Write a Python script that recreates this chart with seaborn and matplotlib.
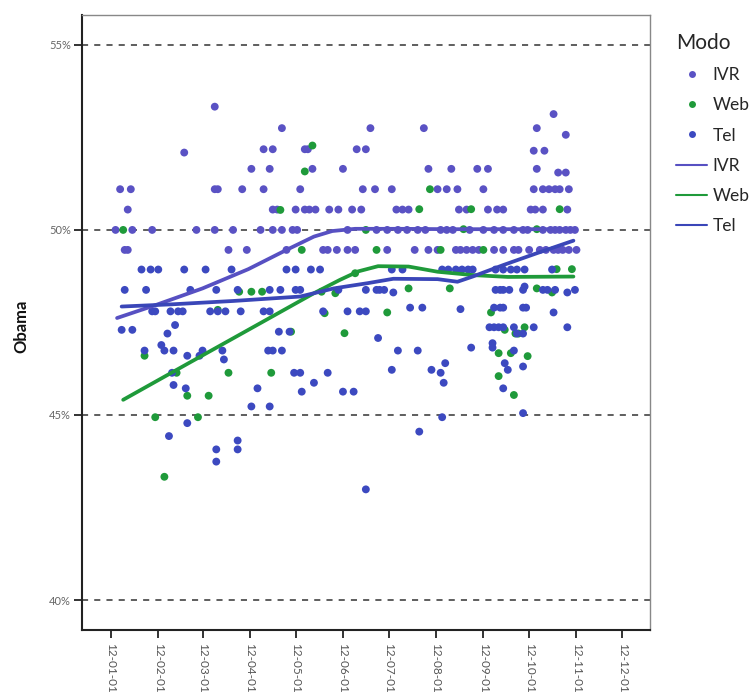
import pandas as pd
import matplotlib.pyplot as plt
import matplotlib.dates as mdates
from matplotlib.lines import Line2D
from matplotlib.ticker import FuncFormatter
import seaborn as sns

inicio = pd.Timestamp("2012-01-01")

# encuestas: dias desde el 1-ene-2012 y % Obama (voto a dos partidos)
ivr_dia = [
    68, 290,
    112, 170, 205, 279, 298,
    48, 100, 106, 127, 129, 161, 167, 277, 284,
    92, 104, 132, 152, 208, 223, 240, 247, 279, 293, 298,
    6, 13, 68, 70, 86, 100, 124, 165, 173, 184,
    214, 220, 227, 244, 277, 283, 287, 291, 294, 300,
    11, 106, 109, 121, 127, 130, 134, 143, 149, 158, 164, 187,
    191, 195, 228, 233, 247, 253, 257, 275, 278, 283, 299,
    3, 14, 27, 56, 68, 80, 98, 106, 112, 119, 122, 155,
    174, 181, 188, 194, 201, 206, 216, 220, 224, 235, 244, 251,
    257, 264, 270, 273, 283, 288, 291, 294, 298, 301, 304,
    9, 11, 77, 89, 115, 139, 142, 148, 155, 160, 181,
    199, 208, 214, 226, 229, 233, 237, 241, 251, 257,
    264, 267, 274, 281, 285, 290, 293, 296, 300, 305,
]
ivr_obama = [
    53.33, 53.13,
    52.75, 52.75, 52.75, 52.75, 52.57,
    52.09, 52.18, 52.18, 52.18, 52.18, 52.18, 52.18, 52.14, 52.14,
    51.65, 51.65, 51.65, 51.65, 51.65, 51.65, 51.65, 51.65, 51.65, 51.55, 51.55,
    51.1, 51.1, 51.1, 51.1, 51.1, 51.1, 51.1, 51.1, 51.1, 51.1,
    51.1, 51.1, 51.1, 51.1, 51.1, 51.1, 51.1, 51.1, 51.1, 51.1,
    50.55, 50.55, 50.55, 50.55, 50.55, 50.55, 50.55, 50.55, 50.55, 50.55, 50.55, 50.55,
    50.55, 50.55, 50.55, 50.55, 50.55, 50.55, 50.55, 50.55, 50.55, 50.55, 50.55,
    50.0, 50.0, 50.0, 50.0, 50.0, 50.0, 50.0, 50.0, 50.0, 50.0, 50.0, 50.0,
    50.0, 50.0, 50.0, 50.0, 50.0, 50.0, 50.0, 50.0, 50.0, 50.0, 50.0, 50.0,
    50.0, 50.0, 50.0, 50.0, 50.0, 50.0, 50.0, 50.0, 50.0, 50.0, 50.0,
    49.46, 49.46, 49.46, 49.46, 49.46, 49.46, 49.46, 49.46, 49.46, 49.46, 49.46,
    49.46, 49.46, 49.46, 49.46, 49.46, 49.46, 49.46, 49.46, 49.46, 49.46,
    49.46, 49.46, 49.46, 49.46, 49.46, 49.46, 49.46, 49.46, 49.46, 49.46,
]

web_dia = [
    8, 22, 29, 35, 43, 50, 57, 64, 70, 77,
    84, 92, 99, 105, 111, 118, 125, 127, 132, 138,
    140, 147, 153, 160, 167, 174, 181, 195, 202, 209,
    216, 222, 231, 236, 244, 249, 254, 254, 258, 262,
    264, 265, 267, 271, 273, 279, 279, 289, 292, 294,
    302,
]
web_obama = [
    50.0, 46.6, 44.94, 43.33, 46.14, 45.52, 44.94, 45.52, 47.84, 46.14,
    48.33, 48.33, 48.33, 46.14, 50.54, 47.25, 49.46, 51.58, 52.28, 48.33,
    47.75, 48.29, 47.21, 48.83, 50.0, 49.46, 47.77, 48.42, 50.56, 51.1,
    49.46, 48.42, 50.02, 50.56, 49.46, 47.77, 46.67, 46.05, 47.3, 46.67,
    45.54, 47.2, 47.2, 47.37, 46.59, 50.02, 48.42, 48.31, 48.94, 50.56,
    48.94,
]

tel_dia = [
    20, 26, 31, 48, 62, 79, 115, 121, 131, 137, 184, 191,
    217, 221, 226, 230, 234, 237, 252, 257, 262, 266, 271, 289,
    9, 23, 52, 69, 83, 104, 111, 121, 124, 149, 167, 174, 176,
    179, 185, 252, 255, 257, 261, 270, 271, 283, 286, 291, 299, 304,
    27, 29, 39, 44, 47, 65, 70, 75, 85, 100, 104, 139,
    155, 163, 167, 196, 204, 229, 251, 255, 257, 270, 272, 290,
    7, 14, 42, 110, 117, 248, 251, 254, 257, 264, 277, 299,
    37, 175, 266, 270, 33, 250, 236, 250,
    22, 35, 41, 60, 73, 103, 106, 112, 188, 201, 264,
    50, 58, 74, 219, 258, 270, 184, 210, 260,
    40, 120, 124, 142, 216, 133, 218, 41,
    49, 96, 257, 125, 152, 159, 92, 104, 270,
    217, 50, 202, 38, 83, 69, 83, 69, 167,
]
tel_obama = [
    48.93, 48.93, 48.93, 48.93, 48.93, 48.93, 48.93, 48.93, 48.93, 48.93, 48.93, 48.93,
    48.93, 48.93, 48.93, 48.93, 48.93, 48.93, 48.93, 48.93, 48.93, 48.93, 48.93, 48.93,
    48.38, 48.38, 48.38, 48.38, 48.38, 48.38, 48.38, 48.38, 48.38, 48.38, 48.38, 48.38, 48.38,
    48.38, 48.31, 48.38, 48.38, 48.38, 48.38, 48.38, 48.47, 48.38, 48.38, 48.38, 48.31, 48.38,
    47.8, 47.8, 47.8, 47.8, 47.8, 47.8, 47.8, 47.8, 47.8, 47.8, 47.8, 47.8,
    47.8, 47.8, 47.8, 47.9, 47.9, 47.86, 47.9, 47.9, 47.9, 47.9, 47.9, 47.77,
    47.3, 47.3, 47.43, 47.25, 47.25, 47.37, 47.37, 47.37, 47.37, 47.37, 47.37, 47.37,
    47.2, 47.08, 47.2, 47.2, 46.89, 46.94, 46.82, 46.82,
    46.74, 46.74, 46.74, 46.74, 46.74, 46.74, 46.74, 46.74, 46.74, 46.74, 46.74,
    46.6, 46.6, 46.5, 46.4, 46.4, 46.31, 46.22, 46.22, 46.22,
    46.14, 46.14, 46.14, 46.14, 46.14, 45.87, 45.87, 45.81,
    45.72, 45.72, 45.72, 45.63, 45.63, 45.63, 45.23, 45.23, 45.05,
    44.94, 44.78, 44.55, 44.43, 44.31, 44.07, 44.07, 43.74, 42.99,
]

# curvas suavizadas por modo
suav_ivr_dia = [4, 30, 60, 90, 115, 133, 145, 160, 190, 220, 250, 280, 304]
suav_ivr_obama = [47.62, 47.98, 48.42, 48.94, 49.46, 49.82, 49.97, 50.03,
                  50.03, 50.02, 50.02, 50.02, 50.02]
suav_web_dia = [8, 50, 100, 133, 150, 162, 175, 195, 214, 237, 260, 303]
suav_web_obama = [45.41, 46.38, 47.53, 48.29, 48.65, 48.88, 49.02, 49.01,
                  48.87, 48.78, 48.73, 48.74]
suav_tel_dia = [7, 40, 80, 124, 146, 168, 185, 214, 227, 237, 257, 279, 303]
suav_tel_obama = [47.93, 47.99, 48.08, 48.2, 48.42, 48.56, 48.68, 48.67,
                  48.6, 48.74, 49.05, 49.37, 49.71]

modos = ["IVR", "Web", "Tel"]
col_puntos = {"IVR": "#5a52c4", "Web": "#1f9a3a", "Tel": "#3c49c0"}
col_lineas = {"IVR": "#5750c2", "Web": "#1f9a3a", "Tel": "#3a46b8"}


def armar(dias, valores, modo):
    return pd.DataFrame({
        "fecha": inicio + pd.to_timedelta(dias, unit="D"),
        "obama": valores,
        "modo": modo,
    })


puntos = pd.concat([
    armar(ivr_dia, ivr_obama, "IVR"),
    armar(web_dia, web_obama, "Web"),
    armar(tel_dia, tel_obama, "Tel"),
], ignore_index=True)
curvas = pd.concat([
    armar(suav_ivr_dia, suav_ivr_obama, "IVR"),
    armar(suav_web_dia, suav_web_obama, "Web"),
    armar(suav_tel_dia, suav_tel_obama, "Tel"),
], ignore_index=True)

sns.set_theme(style="white")
plt.rcParams["font.family"] = ["Lato", "DejaVu Sans"]

fig = plt.figure(figsize=(7.52, 6.99), dpi=100)
ax = fig.add_axes([0.109, 0.0987, 0.755, 0.88])

for y in [40, 45, 50, 55]:
    ax.axhline(y, color="#333333", lw=1.1, ls=(0, (4, 4)), zorder=1)

sns.scatterplot(data=puntos, x="fecha", y="obama", hue="modo",
                hue_order=modos, palette=col_puntos, s=32, linewidth=0,
                ax=ax, legend=False, zorder=3)
sns.lineplot(data=curvas, x="fecha", y="obama", hue="modo",
             hue_order=modos, palette=col_lineas, linewidth=2.7,
             ax=ax, legend=False, zorder=4)

ax.set_xlim(inicio - pd.Timedelta(days=19), inicio + pd.Timedelta(days=353))
ax.set_ylim(39.19, 55.81)
ax.set_xticks(pd.date_range("2012-01-01", "2012-12-01", freq="MS"))
ax.xaxis.set_major_formatter(mdates.DateFormatter("%y-%m-%d"))
ax.set_yticks([40, 45, 50, 55])
ax.yaxis.set_major_formatter(FuncFormatter(lambda v, p: f"{v:.0f}%"))
plt.setp(ax.get_xticklabels(), rotation=-90)

ax.tick_params(axis="x", labelsize=8.5, labelcolor="#555555",
               length=6, width=1.3, color="#222222", pad=3, bottom=True)
ax.tick_params(axis="y", labelsize=8, labelcolor="#666666",
               length=6, width=1.3, color="#222222", pad=2, left=True)

ax.set_xlabel("")
ax.set_ylabel("Obama", fontsize=12, fontweight="bold", color="#111111")
ax.yaxis.set_label_coords(-0.092, 0.493)

for lado in ["left", "bottom"]:
    ax.spines[lado].set_color("#222222")
    ax.spines[lado].set_linewidth(1.5)
for lado in ["top", "right"]:
    ax.spines[lado].set_color("#888888")
    ax.spines[lado].set_linewidth(1.0)

manijas = [Line2D([], [], ls="", marker="o", markersize=5,
                  markeredgewidth=0, color=col_puntos[m]) for m in modos]
manijas += [Line2D([], [], color=col_lineas[m], lw=1.5) for m in modos]
fig.legend(manijas, modos + modos, title="Modo", loc="upper left",
           bbox_to_anchor=(0.89, 0.963), frameon=False, fontsize=12.5,
           title_fontsize=15, handlelength=1.8, handletextpad=0.3,
           labelspacing=0.82, alignment="left", borderaxespad=0)

fig.savefig("out.png", dpi=100)
